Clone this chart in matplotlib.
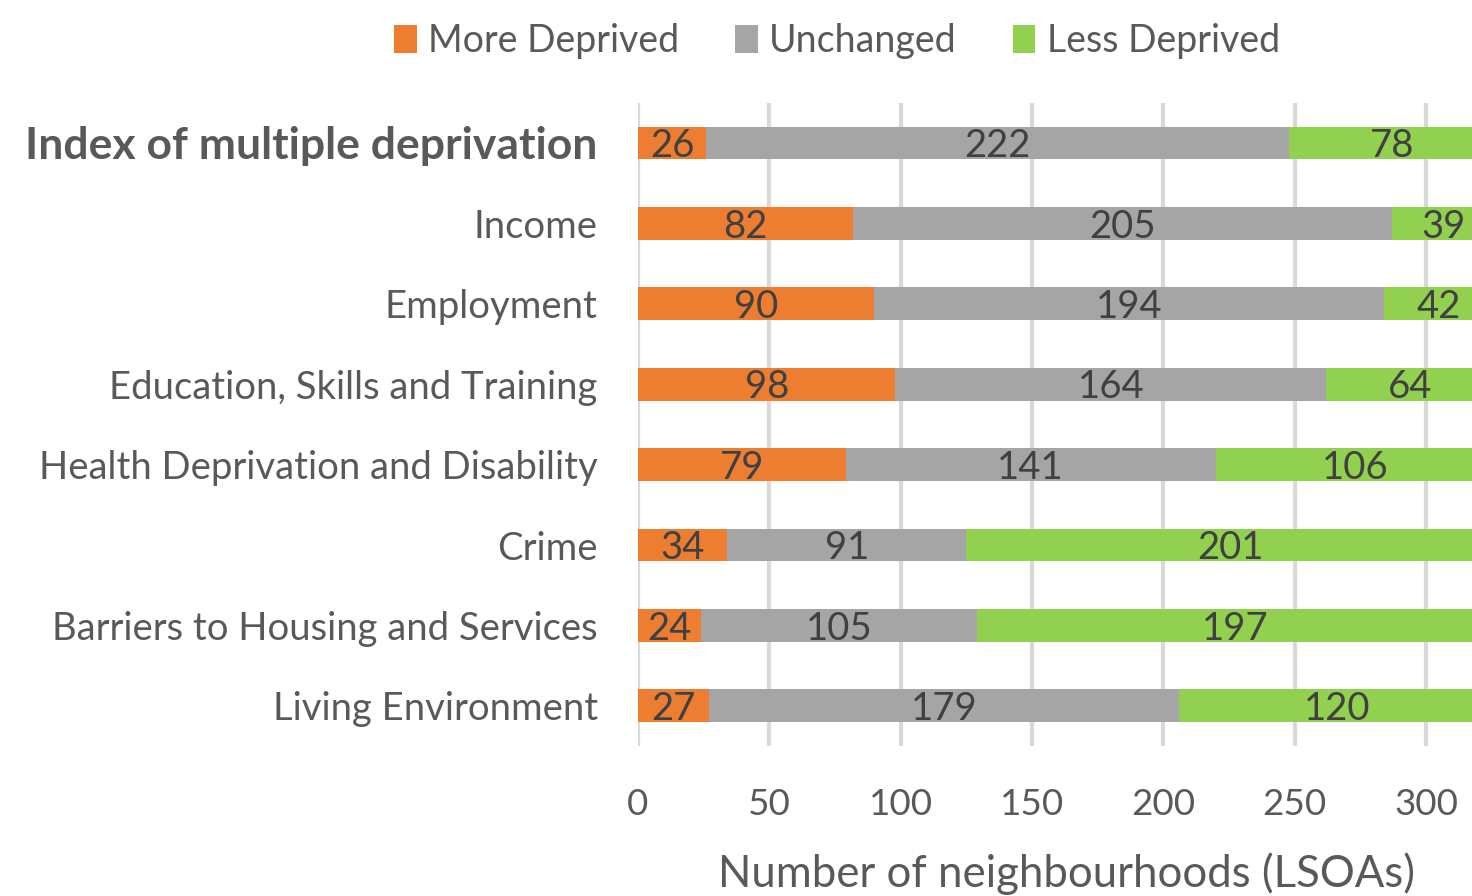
import matplotlib
matplotlib.use("Agg")
import matplotlib.pyplot as plt
import numpy as np

categories = ["Index of multiple deprivation", "Income", "Employment",
              "Education, Skills and Training", "Health Deprivation and Disability",
              "Crime", "Barriers to Housing and Services", "Living Environment"]
more_deprived = [26, 82, 90, 98, 79, 34, 24, 27]
unchanged = [222, 205, 194, 164, 141, 91, 105, 179]
less_deprived = [78, 39, 42, 64, 106, 201, 197, 120]
series_names = ["More Deprived", "Unchanged", "Less Deprived"]
colors = ["#ED7D31", "#A5A5A5", "#92D050"]
xticks = [0, 50, 100, 150, 200, 250, 300]

plt.rcParams['font.family'] = ['Lato', 'DejaVu Sans']

fig = plt.figure(figsize=(14.72, 8.96), dpi=100)
ax = fig.add_axes([638/1472, 1-746/896, 1-638/1472, (746-102.8)/896])

y = np.arange(len(categories))
left = np.zeros(len(categories))
for vals, name, c in zip([more_deprived, unchanged, less_deprived], series_names, colors):
    vals = np.array(vals, dtype=float)
    ax.barh(y, vals, left=left, height=0.41, color=c, label=name, zorder=3)
    for yi, l, v in zip(y, left, vals):
        ax.text(l + v/2, yi + 0.04, f"{int(v)}", ha='center', va='center',
                fontsize=27.5, color="#404040", zorder=4, clip_on=True)
    left += vals

ax.set_xlim(0, 317.5)
ax.set_ylim(7.5, -0.5)
ax.set_xticks(xticks)
ax.set_xticklabels([str(t) for t in xticks], fontsize=26.5, color="#595959")
ax.tick_params(axis='x', length=0, pad=30)
ax.tick_params(axis='y', length=0, pad=29)
ax.set_yticks(y)
ax.set_yticklabels(categories, fontsize=27.5, color="#595959")
for lbl in ax.get_yticklabels():
    if lbl.get_text() == "Index of multiple deprivation":
        lbl.set_fontweight('bold')
        lbl.set_fontsize(32)
ax.grid(axis='x', color="#D9D9D9", linewidth=3, zorder=0)
for s in ax.spines.values():
    s.set_visible(False)
ax.set_xlabel("Number of neighbourhoods (LSOAs)", fontsize=31.5, color="#595959")
ax.xaxis.set_label_coords(0.514, -0.166)

handles, labels = ax.get_legend_handles_labels()
fig.legend(handles, labels, loc='upper center', bbox_to_anchor=(837/1472, 1.012), ncol=3,
           frameon=False, fontsize=27, labelcolor="#595959", handlelength=0.6,
           handleheight=0.8, handletextpad=0.3, columnspacing=1.5)

fig.savefig("out.png", dpi=100)
